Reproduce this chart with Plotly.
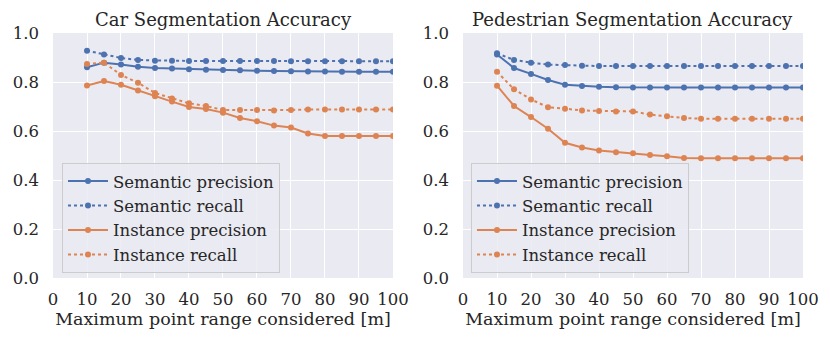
import plotly.graph_objects as go

# x positions: maximum point range [m]
ranges = [10, 15, 20, 25, 30, 35, 40, 45, 50, 55, 60, 65, 70, 75, 80, 85, 90, 95, 100]

# car
car_sem_prec = [0.860, 0.879, 0.871, 0.862, 0.857, 0.855, 0.852, 0.850, 0.849, 0.848,
                0.846, 0.845, 0.844, 0.843, 0.843, 0.842, 0.842, 0.842, 0.842]
car_sem_rec = [0.928, 0.912, 0.898, 0.890, 0.887, 0.887, 0.886, 0.886, 0.886, 0.886,
               0.886, 0.886, 0.885, 0.885, 0.885, 0.885, 0.885, 0.885, 0.885]
car_inst_prec = [0.786, 0.804, 0.789, 0.765, 0.742, 0.720, 0.698, 0.690, 0.675, 0.653,
                 0.640, 0.622, 0.614, 0.590, 0.580, 0.580, 0.580, 0.580, 0.580]
car_inst_rec = [0.873, 0.879, 0.829, 0.797, 0.755, 0.733, 0.713, 0.702, 0.686, 0.686,
                0.686, 0.684, 0.686, 0.688, 0.688, 0.688, 0.688, 0.688, 0.688]

# pedestrian
ped_sem_prec = [0.912, 0.857, 0.833, 0.808, 0.789, 0.784, 0.781, 0.779, 0.778, 0.778,
                0.778, 0.778, 0.778, 0.778, 0.778, 0.778, 0.778, 0.778, 0.778]
ped_sem_rec = [0.917, 0.890, 0.879, 0.871, 0.869, 0.866, 0.865, 0.865, 0.865, 0.865,
               0.865, 0.865, 0.865, 0.865, 0.865, 0.865, 0.865, 0.865, 0.865]
ped_inst_prec = [0.785, 0.702, 0.657, 0.609, 0.552, 0.533, 0.520, 0.513, 0.509, 0.502,
                 0.497, 0.490, 0.489, 0.489, 0.489, 0.489, 0.489, 0.489, 0.489]
ped_inst_rec = [0.842, 0.770, 0.729, 0.697, 0.691, 0.684, 0.682, 0.680, 0.680, 0.667,
                0.660, 0.653, 0.650, 0.650, 0.650, 0.650, 0.650, 0.650, 0.650]

titles = ["Car Segmentation Accuracy", "Pedestrian Segmentation Accuracy"]
series_names = ["Semantic precision", "Semantic recall", "Instance precision", "Instance recall"]
x_label = "Maximum point range considered [m]"

BLUE = "#4C72B0"
ORANGE = "#DD8452"
FONT = "'DejaVu Serif', 'Liberation Serif', serif"
TXT = "#262626"
BG = "#EAEAF2"

styles = [(BLUE, "solid"), (BLUE, "dot"), (ORANGE, "solid"), (ORANGE, "dot")]

fig = go.Figure()

panels = [
    ([car_sem_prec, car_sem_rec, car_inst_prec, car_inst_rec], "x", "y", "legend"),
    ([ped_sem_prec, ped_sem_rec, ped_inst_prec, ped_inst_rec], "x2", "y2", "legend2"),
]
for series, xa, ya, leg in panels:
    for name, ys, (col, dash) in zip(series_names, series, styles):
        fig.add_trace(go.Scatter(
            x=ranges, y=ys, name=name, mode="lines+markers",
            line=dict(color=col, width=2, dash=dash),
            marker=dict(color=col, size=6),
            xaxis=xa, yaxis=ya, legend=leg,
        ))

axis_common = dict(
    range=[0, 100], dtick=10, showgrid=True, gridcolor="white", gridwidth=1.3,
    zeroline=False, showline=False, ticks="", ticklabelstandoff=9, automargin=False,
    tickfont=dict(family=FONT, size=16.5, color=TXT),
)
yaxis_common = dict(
    range=[0, 1], dtick=0.2, tickformat=".1f", showgrid=True, gridcolor="white",
    gridwidth=1.3, zeroline=False, showline=False, ticks="", ticklabelstandoff=13,
    automargin=False, tickfont=dict(family=FONT, size=16.5, color=TXT),
)

legend_common = dict(
    bgcolor="rgba(234,234,242,0.85)", bordercolor="#CCCCCC", borderwidth=1,
    font=dict(family=FONT, size=16.5, color=TXT),
    xanchor="left", yanchor="top", tracegroupgap=0, itemwidth=40,
)

xtitle = dict(text=x_label, font=dict(family=FONT, size=17.5, color=TXT), standoff=5)

# page body keeps an 8px margin, so the figure is offset by (8, 8)
fig.update_layout(
    width=830, height=343,
    margin=dict(l=45, r=35, t=25, b=73, autoexpand=False),
    paper_bgcolor="white", plot_bgcolor=BG,
    font=dict(family=FONT, color=TXT),
    xaxis=dict(domain=[0, 0.4533], anchor="y", title=xtitle, **axis_common),
    yaxis=dict(domain=[0, 1], anchor="x", **yaxis_common),
    xaxis2=dict(domain=[0.5467, 1], anchor="y2", title=xtitle, **axis_common),
    yaxis2=dict(domain=[0, 1], anchor="x2", **yaxis_common),
    legend=dict(x=0.012, y=0.47, **legend_common),
    legend2=dict(x=0.5573, y=0.47, **legend_common),
    annotations=[
        dict(text=titles[0], x=0.2267, y=1, xref="paper", yref="paper",
             xanchor="center", yanchor="bottom", yshift=1, showarrow=False,
             font=dict(family=FONT, size=18, color=TXT)),
        dict(text=titles[1], x=0.7733, y=1, xref="paper", yref="paper",
             xanchor="center", yanchor="bottom", yshift=1, showarrow=False,
             font=dict(family=FONT, size=18, color=TXT)),
    ],
)

fig.write_html("out.html")
